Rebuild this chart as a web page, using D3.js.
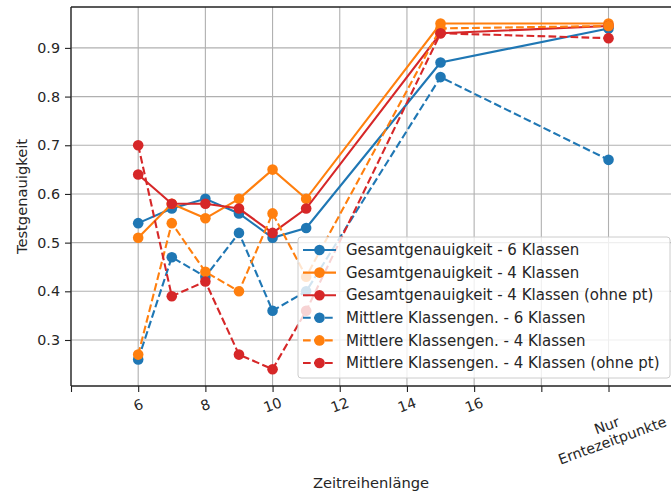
<!DOCTYPE html>
<html><head><meta charset="utf-8">
<script src="https://cdn.jsdelivr.net/npm/d3@7"></script>
<style>body{margin:0;background:#fff;} svg{display:block;font-family:"DejaVu Sans",sans-serif;}</style>
</head><body>
<svg id="c" width="671" height="493"></svg>
<script>
const xValues = [6, 7, 8, 9, 10, 11, 15, 20];
const seriesNames = [
  "Gesamtgenauigkeit - 6 Klassen",
  "Gesamtgenauigkeit - 4 Klassen",
  "Gesamtgenauigkeit - 4 Klassen (ohne pt)",
  "Mittlere Klassengen. - 6 Klassen",
  "Mittlere Klassengen. - 4 Klassen",
  "Mittlere Klassengen. - 4 Klassen (ohne pt)"
];
const gesamt6 = [0.54, 0.57, 0.59, 0.56, 0.51, 0.53, 0.87, 0.94];
const gesamt4 = [0.51, 0.58, 0.55, 0.59, 0.65, 0.59, 0.95, 0.95];
const gesamt4ohne = [0.64, 0.58, 0.58, 0.57, 0.52, 0.57, 0.93, 0.945];
const mittel6 = [0.26, 0.47, 0.43, 0.52, 0.36, 0.40, 0.84, 0.67];
const mittel4 = [0.27, 0.54, 0.44, 0.40, 0.56, 0.43, 0.94, 0.945];
const mittel4ohne = [0.70, 0.39, 0.42, 0.27, 0.24, 0.36, 0.93, 0.92];
const seriesValues = [gesamt6, gesamt4, gesamt4ohne, mittel6, mittel4, mittel4ohne];
const seriesColors = ["#1f77b4", "#ff7f0e", "#d62728", "#1f77b4", "#ff7f0e", "#d62728"];
const seriesDashed = [false, false, false, true, true, true];
const xTickValues = [4, 6, 8, 10, 12, 14, 16, 18, 20];
const xTickLabels = ["", "6", "8", "10", "12", "14", "16", "", "Nur\nErntezeitpunkte"];
const yTickValues = [0.3, 0.4, 0.5, 0.6, 0.7, 0.8, 0.9];
const xTitle = "Zeitreihenlänge";
const yTitle = "Testgenauigkeit";

const svg = d3.select("#c");
const L = 71, R = 671, T = 7, B = 386;
const x = d3.scaleLinear().domain([4, 21.86]).range([L, R]);
const y = d3.scaleLinear().domain([0.2055, 0.984]).range([B, T]);
const fsTick = 14.3, fsTitle = 14.7, fsLegend = 15;

// grid
const grid = svg.append("g");
grid.selectAll("line.v").data(xTickValues).join("line")
  .attr("x1", d => x(d)).attr("x2", d => x(d)).attr("y1", T).attr("y2", B)
  .attr("stroke", "#b0b0b0").attr("stroke-width", 1.1);
grid.selectAll("line.h").data(yTickValues).join("line")
  .attr("x1", L).attr("x2", R).attr("y1", d => y(d)).attr("y2", d => y(d))
  .attr("stroke", "#b0b0b0").attr("stroke-width", 1.1);

// series
const line = d3.line().x((d, i) => x(xValues[i])).y(d => y(d));
seriesValues.forEach((vals, s) => {
  const g = svg.append("g");
  g.append("path").datum(vals).attr("d", line)
    .attr("fill", "none").attr("stroke", seriesColors[s]).attr("stroke-width", 2.1)
    .attr("stroke-dasharray", seriesDashed[s] ? "7.7,3.3" : null);
  g.selectAll("circle").data(vals).join("circle")
    .attr("cx", (d, i) => x(xValues[i])).attr("cy", d => y(d)).attr("r", 5.3)
    .attr("fill", seriesColors[s]);
});

// axes
const xAxis = d3.axisBottom(x).tickValues(xTickValues).tickSize(6).tickFormat("");
const gx = svg.append("g").attr("transform", `translate(0,${B})`).call(xAxis);
gx.select(".domain").remove();
gx.selectAll(".tick line").attr("stroke", "#222").attr("stroke-width", 1.1);

const yAxis = d3.axisLeft(y).tickValues(yTickValues).tickSize(6).tickPadding(5).tickFormat(d3.format(".1f"));
const gy = svg.append("g").attr("transform", `translate(${L},0)`).call(yAxis);
gy.select(".domain").remove();
gy.selectAll(".tick line").attr("stroke", "#222").attr("stroke-width", 1.1);
gy.selectAll(".tick text").attr("font-size", fsTick).attr("fill", "#262626").attr("font-family", "DejaVu Sans");

// spines
svg.append("line").attr("x1", L).attr("x2", L).attr("y1", T).attr("y2", B).attr("stroke", "#222").attr("stroke-width", 1.3);
svg.append("line").attr("x1", L).attr("x2", R).attr("y1", B).attr("y2", B).attr("stroke", "#222").attr("stroke-width", 1.3);
svg.append("line").attr("x1", L).attr("x2", R).attr("y1", T).attr("y2", T).attr("stroke", "#222").attr("stroke-width", 1.3);

// rotated x tick labels
const xl = svg.append("g");
xTickValues.forEach((v, i) => {
  const lab = xTickLabels[i];
  if (!lab) return;
  const lines = lab.split("\n");
  const cy = lines.length > 1 ? 433 : 405;
  const cx = x(v) + (lines.length > 1 ? 1 : 0);
  const g = xl.append("g").attr("transform", `translate(${cx},${cy}) rotate(-20)`);
  const lh = 16;
  lines.forEach((t, k) => {
    g.append("text").attr("x", 0).attr("y", (k - (lines.length - 1) / 2) * lh)
      .attr("dy", "0.35em").attr("text-anchor", "middle")
      .attr("font-size", fsTick).attr("fill", "#262626").text(t);
  });
});

// axis titles
svg.append("text").attr("x", (L + R) / 2).attr("y", 483).attr("dy", "0.35em")
  .attr("text-anchor", "middle").attr("font-size", fsTitle).attr("fill", "#262626").text(xTitle);
svg.append("text").attr("transform", `translate(22,${(T + B) / 2}) rotate(-90)`)
  .attr("dy", "0.35em").attr("text-anchor", "middle").attr("font-size", fsTitle).attr("fill", "#262626").text(yTitle);

// legend
const lg = svg.append("g");
const lx = 298, ly = 237, lw = 372, lhgt = 141;
lg.append("rect").attr("x", lx).attr("y", ly).attr("width", lw).attr("height", lhgt)
  .attr("rx", 3).attr("fill", "#fff").attr("fill-opacity", 0.8)
  .attr("stroke", "#cccccc").attr("stroke-width", 1);
seriesNames.forEach((name, s) => {
  const ry = 250 + s * 22.6;
  lg.append("line").attr("x1", lx + 5).attr("x2", lx + 38).attr("y1", ry).attr("y2", ry)
    .attr("stroke", seriesColors[s]).attr("stroke-width", 2.1)
    .attr("stroke-dasharray", seriesDashed[s] ? "7.7,3.3" : null);
  lg.append("circle").attr("cx", lx + 21.5).attr("cy", ry).attr("r", 5.3).attr("fill", seriesColors[s]);
  lg.append("text").attr("x", 346).attr("y", ry).attr("dy", "0.35em")
    .attr("font-size", fsLegend).attr("fill", "#262626").text(name);
});
</script>
</body></html>
